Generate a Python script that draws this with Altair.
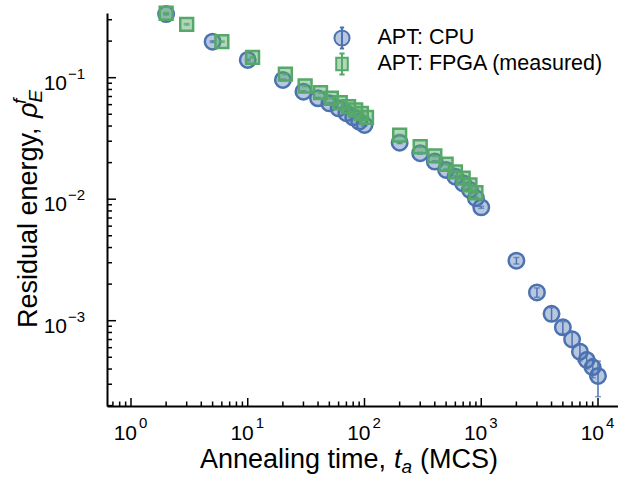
import altair as alt
import pandas as pd

F = "Liberation Sans"

series_names = ["APT: CPU", "APT: FPGA (measured)"]
stroke_colors = ["#4C72B0", "#55A868"]
fill_colors = ["rgba(76,114,176,0.40)", "rgba(85,168,104,0.45)"]
# legend symbols: marker with a small error bar through it (unit box -1..1)
legend_shapes = [
    "M-0.72,0A0.72,0.72,0,1,1,0.72,0A0.72,0.72,0,1,1,-0.72,0Z"
    "M0,-1L0,1M-0.2,-1L0.2,-1M-0.2,1L0.2,1",
    "M-0.55,-0.6H0.55V0.6H-0.55Z"
    "M0,-1L0,1M-0.25,-1L0.25,-1M-0.25,1L0.25,1",
]

cpu_t = [2, 5, 10, 20, 30, 40, 50, 60, 70, 80, 90, 100,
         200, 300, 400, 500, 600, 700, 800, 900, 1000,
         2000, 3000, 4000, 5000, 6000, 7000, 8000, 9000, 10000]
cpu_rho = [0.334, 0.198, 0.140, 0.0958, 0.0767, 0.0677, 0.0615, 0.0560, 0.0510, 0.0472, 0.0434, 0.0408,
           0.0292, 0.0239, 0.0204, 0.0174, 0.0153, 0.0135, 0.0119, 0.0102, 0.00857,
           0.00312, 0.00171, 0.00114, 0.000882, 0.000703, 0.000556, 0.000475, 0.000414, 0.000351]
cpu_err = [0.005, 0.003, 0.0022, 0.0015, 0.0012, 0.0011, 0.0010, 0.0009, 0.0008, 0.0008, 0.0007, 0.0007,
           0.0005, 0.0004, 0.00035, 0.0003, 0.00027, 0.00024, 0.00021, 0.00018, 0.00016,
           0.00019, 0.00015, 0.00014, 0.00010, 0.00010, 0.00009, 0.000075, 0.000075, 0.000114]

fpga_t = [2, 3, 6, 11, 21, 31, 42, 52, 62, 73, 84, 94, 104,
          200, 300, 400, 500, 600, 700, 800, 900]
fpga_rho = [0.339, 0.275, 0.198, 0.147, 0.107, 0.0855, 0.0753, 0.0677, 0.0622, 0.0577, 0.0542, 0.0509, 0.0472,
            0.0337, 0.0270, 0.0227, 0.0194, 0.0168, 0.0149, 0.0131, 0.0113]
fpga_err = [0.005, 0.004, 0.0025, 0.0018, 0.0013, 0.0010, 0.0009, 0.0008, 0.0007, 0.0007, 0.0006, 0.0006, 0.0006,
            0.0004, 0.00032, 0.00027, 0.00023, 0.0002, 0.00018, 0.00016, 0.00014]

x_major = [1, 10, 100, 1000, 10000]
x_exps = ["0", "1", "2", "3", "4"]
x_minor = [0.7, 0.8, 0.9, 2, 3, 4, 5, 6, 7, 8, 9, 20, 30, 40, 50, 60, 70, 80, 90,
           200, 300, 400, 500, 600, 700, 800, 900, 2000, 3000, 4000, 5000, 6000, 7000, 8000, 9000]
y_major = [0.1, 0.01, 0.001]
y_exps = ["\u22121", "\u22122", "\u22123"]
y_minor = [0.3, 0.2, 0.09, 0.08, 0.07, 0.06, 0.05, 0.04, 0.03, 0.02,
           0.009, 0.008, 0.007, 0.006, 0.005, 0.004, 0.003, 0.002,
           0.0009, 0.0008, 0.0007, 0.0006, 0.0005, 0.0004, 0.0003, 0.0002]

x_title_parts = ["Annealing time,", "t", "a", "(MCS)"]
y_title_parts = ["Residual energy,", "\u03c1", "E", "f"]

W, H = 511, 393

xs = alt.Scale(type="log", domain=[0.623, 14836], nice=False, zero=False)
ys = alt.Scale(type="log", domain=[1.986e-4, 0.3407], nice=False, zero=False)
ax_x = alt.Axis(ticks=False, labels=False, grid=False, title=None, domainWidth=2, domainColor="black")
ax_y = alt.Axis(ticks=False, labels=False, grid=False, title=None, domainWidth=2, domainColor="black")


def X(f):
    return alt.X(f, type="quantitative", scale=xs, axis=ax_x)


def Y(f):
    return alt.Y(f, type="quantitative", scale=ys, axis=ax_y)


def mk(t, r, e, name):
    return pd.DataFrame({"t": t, "rho": r,
                         "lo": [a - b for a, b in zip(r, e)],
                         "hi": [a + b for a, b in zip(r, e)],
                         "series": name})


cpu_df = mk(cpu_t, cpu_rho, cpu_err, series_names[0])
fpga_df = mk(fpga_t, fpga_rho, fpga_err, series_names[1])

cpu_pts = alt.Chart(cpu_df).mark_point(
    shape="circle", filled=True, opacity=1, strokeWidth=2.5, size=240,
    fill=fill_colors[0], stroke=stroke_colors[0]).encode(x=X("t"), y=Y("rho"))
fpga_pts = alt.Chart(fpga_df).mark_point(
    shape="square", filled=True, opacity=1, strokeWidth=2.5, size=165,
    fill=fill_colors[1], stroke=stroke_colors[1]).encode(x=X("t"), y=Y("rho"))

cpu_eb = alt.Chart(cpu_df).mark_errorbar(ticks=True, size=6, thickness=1.5, color=stroke_colors[0]).encode(
    x=X("t"), y=Y("lo"), y2="hi")
fpga_eb = alt.Chart(fpga_df).mark_errorbar(ticks=True, size=6, thickness=1.5, color=stroke_colors[1]).encode(
    x=X("t"), y=Y("lo"), y2="hi")

# legend carrier: draws nothing itself, only supplies the legend
leg = alt.Legend(title=None, orient="none", legendX=223.5, legendY=13.5, labelFont=F, labelFontSize=21.5,
                 labelColor="black", labelLimit=0, symbolSize=441, symbolStrokeWidth=2,
                 rowPadding=-5, labelOffset=24, padding=0)
legend_layer = alt.Chart(pd.concat([cpu_df, fpga_df])).mark_point(filled=True, opacity=1).encode(
    fill=alt.Fill("series:N", scale=alt.Scale(domain=series_names, range=fill_colors), legend=leg),
    stroke=alt.Stroke("series:N", scale=alt.Scale(domain=series_names, range=stroke_colors), legend=leg),
    shape=alt.Shape("series:N", scale=alt.Scale(domain=series_names, range=legend_shapes), legend=leg),
).transform_filter("datum.t < 0")

xmaj = alt.Chart(pd.DataFrame({"v": x_major})).mark_rule(strokeWidth=1.5, color="black").encode(
    x=X("v"), y=alt.value(H), y2=alt.value(H - 8))
xmin = alt.Chart(pd.DataFrame({"v": x_minor})).mark_rule(strokeWidth=1.5, color="black").encode(
    x=X("v"), y=alt.value(H), y2=alt.value(H - 4.5))
ymaj = alt.Chart(pd.DataFrame({"v": y_major})).mark_rule(strokeWidth=1.5, color="black").encode(
    y=Y("v"), x=alt.value(0), x2=alt.value(9))
ymin = alt.Chart(pd.DataFrame({"v": y_minor})).mark_rule(strokeWidth=1.5, color="black").encode(
    y=Y("v"), x=alt.value(0), x2=alt.value(5))

xl_df = pd.DataFrame({"v": x_major, "b": ["10"] * len(x_major), "e": x_exps})
yl_df = pd.DataFrame({"v": y_major, "b": ["10"] * len(y_major), "e": y_exps})

xlab = alt.Chart(xl_df).mark_text(align="right", baseline="alphabetic", font=F, fontSize=21, dx=6,
                                  color="black").encode(x=X("v"), y=alt.value(427), text="b:N")
xexp = alt.Chart(xl_df).mark_text(align="left", baseline="alphabetic", font=F, fontSize=15, dx=8,
                                  color="black").encode(x=X("v"), y=alt.value(414.5), text="e:N")
ylab = alt.Chart(yl_df).mark_text(align="right", baseline="alphabetic", font=F, fontSize=21, dy=12,
                                  color="black").encode(y=Y("v"), x=alt.value(-40), text="b:N")
yexp = alt.Chart(yl_df).mark_text(align="left", baseline="alphabetic", font=F, fontSize=15, dy=1,
                                  color="black").encode(y=Y("v"), x=alt.value(-39), text="e:N")

one = pd.DataFrame({"k": [0]})


def txt(s, x, y, size=27, italic=False, angle=0):
    kw = dict(align="left", baseline="alphabetic", font=F, fontSize=size, color="black")
    if italic:
        kw["fontStyle"] = "italic"
    if angle:
        kw["angle"] = angle
    return alt.Chart(one).mark_text(**kw).encode(x=alt.value(x), y=alt.value(y), text=alt.value(s))


xt_y = 455
xtitle = [
    txt(x_title_parts[0], 93, xt_y),
    txt(x_title_parts[1], 287, xt_y, italic=True),
    txt(x_title_parts[2], 294.5, xt_y + 5, size=19, italic=True),
    txt(x_title_parts[3], 313, xt_y),
]
yt_x = -70
ytitle = [
    txt(y_title_parts[0], yt_x, 315, angle=270),
    txt(y_title_parts[1], yt_x, 105, italic=True, angle=270),
    txt(y_title_parts[2], yt_x + 5, 89.4, size=19, italic=True, angle=270),
    txt(y_title_parts[3], yt_x - 11, 91, size=19, italic=True, angle=270),
]

chart = alt.layer(
    xmin, xmaj, ymin, ymaj,
    cpu_pts, cpu_eb, fpga_pts, fpga_eb, legend_layer,
    xlab, xexp, ylab, yexp,
    *xtitle, *ytitle,
).properties(
    width=W, height=H,
    autosize=alt.AutoSizeParams(type="none"),
    padding={"left": 107, "top": 13, "right": 0, "bottom": 79},
    background="white",
).configure_view(stroke=None)

chart.save("out.html", embed_options={"renderer": "svg", "actions": False})
